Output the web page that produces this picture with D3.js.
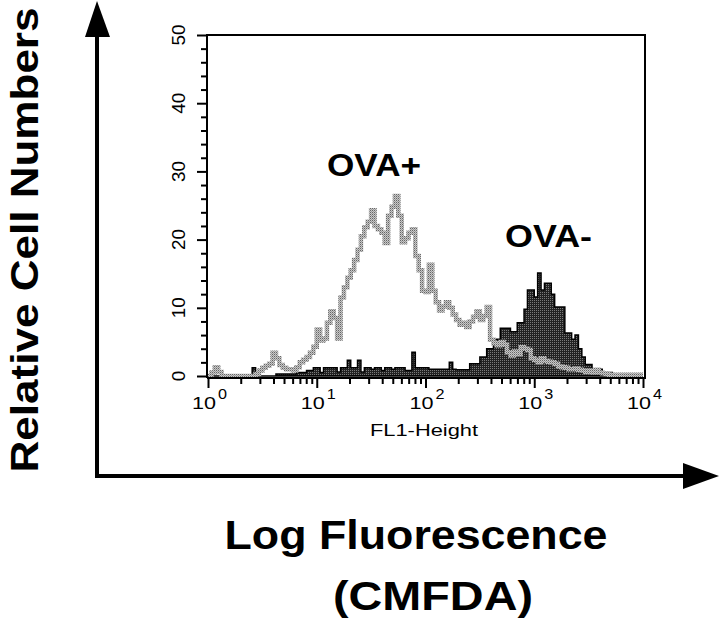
<!DOCTYPE html>
<html>
<head>
<meta charset="utf-8">
<script src="https://cdn.jsdelivr.net/npm/d3@7"></script>
<style>
  html, body { margin: 0; padding: 0; background: #fff; }
  svg { display: block; }
</style>
</head>
<body>
<div id="chart"></div>
<script>
// ---------------- data ----------------
const nBins = 128;            // histogram channels spread over 4 decades
const decades = 4;
// OVA+ (grey outline histogram), counts per channel
const ovaPlus = [
  0,0.5,1.3,0.6,0,0,0,0,0,0,
  0,0,0,0,0.3,0.8,1.2,1.5,1.8,3.4,
  2.6,1.6,1.2,1.0,1.0,0.8,1.3,2.0,2.4,2.8,
  3.4,4.3,6.8,5.2,5.5,7.8,9.5,8.5,5.5,11.5,
  13.0,14.4,15.5,17.0,18.5,20.5,21.8,22.6,24.3,22.0,
  21.5,21.0,19.5,23.5,24.8,26.4,23.5,19.6,20.2,21.0,
  21.5,17.6,15.5,12.5,12.3,16.3,12.5,10.8,9.6,10.2,
  10.8,10.0,9.0,8.2,7.5,7.8,7.2,8.0,8.7,9.5,
  8.2,8.8,10.1,5.3,4.8,4.5,5.0,4.6,3.5,3.0,
  3.6,3.2,4.2,4.0,3.8,2.6,2.4,2.0,2.6,2.2,
  2.1,2.0,1.8,1.4,1.3,1.2,1.0,1.0,1.1,0.9,
  0.8,0.6,0.8,0.5,0.9,0.5,0.4,0.3,0.2,0.2,
  0.2,0.2,0.2,0.2,0.2,0.2,0.2,0.2
];
// OVA- (dark filled histogram)
const ovaMinus = [
  0,0,0,0,0,0,0,0,0,0,
  0,0,0,1.2,0,0,0,0,0,0,
  0.3,0.3,0.3,0.3,0.3,0.3,0.5,0.5,0.5,0.8,
  0.8,1.2,1.2,0.5,1.2,1.2,1.2,1.2,0.6,1.2,
  1.2,2.3,1.2,1.2,2.3,0.6,1.2,1.2,1.0,1.2,
  1.2,0.8,1.2,1.2,1.0,1.2,1.2,1.2,0.8,0.8,
  3.5,1.2,1.2,1.2,1.2,1.0,1.0,1.0,1.0,1.0,
  1.0,2.0,1.0,0.9,0.9,0.9,0.9,1.8,1.8,1.8,
  2.8,2.8,4.0,4.0,5.4,5.4,7.0,7.0,7.0,6.5,
  6.5,7.8,7.8,9.8,12.6,12.6,11.6,15.1,12.6,13.6,
  13.6,12.0,10.1,10.1,10.1,6.3,6.3,5.4,6.0,4.0,
  2.8,1.7,1.7,1.0,1.0,1.0,0.5,0.5,0.5,0,
  0,0,0,0,0,0,0,0
];
const xTickExponents = [0, 1, 2, 3, 4];
const yTickValues = [0, 10, 20, 30, 40, 50];
const yMinorValues = [2,4,6,8,12,14,16,18,22,24,26,28,32,34,36,38,42,44,46,48];
const seriesLabels = ["OVA+", "OVA-"];
const xAxisLabel = "FL1-Height";
const yTitle = "Relative Cell Numbers";
const xTitle1 = "Log Fluorescence";
const xTitle2 = "(CMFDA)";

(function () {
const W = 720, H = 627;
const svg = d3.select("#chart").append("svg")
  .attr("width", W).attr("height", H)
  .attr("viewBox", `0 0 ${W} ${H}`);
svg.append("rect").attr("width", W).attr("height", H).attr("fill", "#fff");

const defs = svg.append("defs");
const pg = defs.append("pattern").attr("id", "greyDots")
  .attr("patternUnits", "userSpaceOnUse").attr("width", 2).attr("height", 2);
pg.append("rect").attr("width", 2).attr("height", 2).attr("fill", "#c8c8c8");
pg.append("rect").attr("x", 0).attr("y", 0).attr("width", 1).attr("height", 1).attr("fill", "#666");
pg.append("rect").attr("x", 1).attr("y", 1).attr("width", 1).attr("height", 1).attr("fill", "#999");
const pd = defs.append("pattern").attr("id", "darkDots")
  .attr("patternUnits", "userSpaceOnUse").attr("width", 2).attr("height", 2);
pd.append("rect").attr("width", 2).attr("height", 2).attr("fill", "#222");
pd.append("rect").attr("x", 0).attr("y", 0).attr("width", 1).attr("height", 1).attr("fill", "#7a7a7a");

const font = "'Liberation Sans', Arial, Helvetica, sans-serif";

const pLeft = 208, pRight = 643, pTop = 35, zeroY = 376, frameBottom = 378, frameLeft = 207, frameRight = 645;
const x = d3.scaleLog().domain([1, Math.pow(10, decades)]).range([pLeft, pRight]);
const y = d3.scaleLinear().domain([0, 50]).range([zeroY, pTop]);

const edges = d3.range(nBins + 1).map(i => Math.pow(10, decades * i / nBins));
function toSteps(arr) {
  const pts = arr.map((v, i) => ({ e: edges[i], v }));
  pts.push({ e: edges[nBins], v: arr[arr.length - 1] });
  return pts;
}

const g = svg.append("g");

const area = d3.area().x(d => x(d.e)).y0(y(0)).y1(d => y(d.v)).curve(d3.curveStepAfter);
g.append("path").datum(toSteps(ovaMinus))
  .attr("d", area).attr("fill", "url(#darkDots)")
  .attr("stroke", "#000").attr("stroke-width", 1.5);

const line = d3.line().x(d => x(d.e)).y(d => y(d.v)).curve(d3.curveStepAfter);
g.append("path").datum(toSteps(ovaPlus))
  .attr("d", line).attr("fill", "none")
  .attr("stroke", "url(#greyDots)").attr("stroke-width", 4.5)
  .attr("stroke-linejoin", "miter");

g.append("path")
  .attr("d", `M${frameLeft},${frameBottom}V${pTop}H${frameRight}V${frameBottom}H${frameLeft}`)
  .attr("fill", "none").attr("stroke", "#000").attr("stroke-width", 2);

const yAxisMajor = d3.axisLeft(y).tickValues(yTickValues).tickSize(10).tickFormat("");
const yAxisMinor = d3.axisLeft(y).tickValues(yMinorValues).tickSize(6).tickFormat("");
[yAxisMajor, yAxisMinor].forEach(ax => {
  const a = g.append("g").attr("transform", `translate(${frameLeft},0)`).call(ax);
  a.select(".domain").remove();
  a.selectAll("line").attr("stroke", "#000").attr("stroke-width", 2);
});
g.selectAll(".ylab").data(yTickValues).enter().append("text")
  .attr("transform", d => `translate(185,${y(d)}) rotate(-90)`)
  .attr("text-anchor", "middle")
  .attr("font-family", font).attr("font-size", 18)
  .attr("textLength", d => String(d).length * 10.5)
  .attr("lengthAdjust", "spacingAndGlyphs")
  .text(d => d);

const majorVals = xTickExponents.map(e => Math.pow(10, e));
const minorVals = [];
for (let e = 0; e < decades; e++) for (let k = 2; k <= 9; k++) minorVals.push(k * Math.pow(10, e));
const xMajor = d3.axisBottom(x).tickValues(majorVals).tickSize(10).tickFormat("");
const xMinor = d3.axisBottom(x).tickValues(minorVals).tickSize(6).tickFormat("");
[xMajor, xMinor].forEach(ax => {
  const a = g.append("g").attr("transform", `translate(0,${frameBottom})`).call(ax);
  a.select(".domain").remove();
  a.selectAll("line").attr("stroke", "#000").attr("stroke-width", 2);
});
const xl = g.selectAll(".xlab").data(xTickExponents).enter().append("g")
  .attr("transform", d => `translate(${x(Math.pow(10, d))},0)`);
xl.append("text")
  .attr("x", -16).attr("y", 409)
  .attr("font-family", font).attr("font-size", 16)
  .attr("textLength", 24).attr("lengthAdjust", "spacingAndGlyphs")
  .text("10");
xl.append("text")
  .attr("x", 10).attr("y", 399)
  .attr("font-family", font).attr("font-size", 15)
  .attr("textLength", 9).attr("lengthAdjust", "spacingAndGlyphs")
  .text(d => d);

g.append("text")
  .attr("x", 424).attr("y", 436).attr("text-anchor", "middle")
  .attr("font-family", font).attr("font-size", 16)
  .attr("textLength", 108).attr("lengthAdjust", "spacingAndGlyphs")
  .text(xAxisLabel);

g.append("text").attr("x", 327).attr("y", 176)
  .attr("font-family", font).attr("font-weight", "bold").attr("font-size", 31)
  .attr("textLength", 94).attr("lengthAdjust", "spacingAndGlyphs")
  .text(seriesLabels[0]);
g.append("text").attr("x", 505).attr("y", 247)
  .attr("font-family", font).attr("font-weight", "bold").attr("font-size", 31)
  .attr("textLength", 87).attr("lengthAdjust", "spacingAndGlyphs")
  .text(seriesLabels[1]);

svg.append("line").attr("x1", 97).attr("y1", 478).attr("x2", 97).attr("y2", 30)
  .attr("stroke", "#000").attr("stroke-width", 4);
svg.append("polygon").attr("points", "97,1 85,37 110,37").attr("fill", "#000");
svg.append("line").attr("x1", 95).attr("y1", 476).attr("x2", 690).attr("y2", 476)
  .attr("stroke", "#000").attr("stroke-width", 4);
svg.append("polygon").attr("points", "719,476 683,463 683,489").attr("fill", "#000");

svg.append("text")
  .attr("transform", "translate(38,240) rotate(-90)")
  .attr("text-anchor", "middle")
  .attr("font-family", font).attr("font-weight", "bold").attr("font-size", 38)
  .attr("textLength", 465).attr("lengthAdjust", "spacingAndGlyphs")
  .text(yTitle);
svg.append("text")
  .attr("x", 416).attr("y", 549).attr("text-anchor", "middle")
  .attr("font-family", font).attr("font-weight", "bold").attr("font-size", 40)
  .attr("textLength", 383).attr("lengthAdjust", "spacingAndGlyphs")
  .text(xTitle1);
svg.append("text")
  .attr("x", 433).attr("y", 610).attr("text-anchor", "middle")
  .attr("font-family", font).attr("font-weight", "bold").attr("font-size", 40)
  .attr("textLength", 200).attr("lengthAdjust", "spacingAndGlyphs")
  .text(xTitle2);
})();
</script>
</body>
</html>
